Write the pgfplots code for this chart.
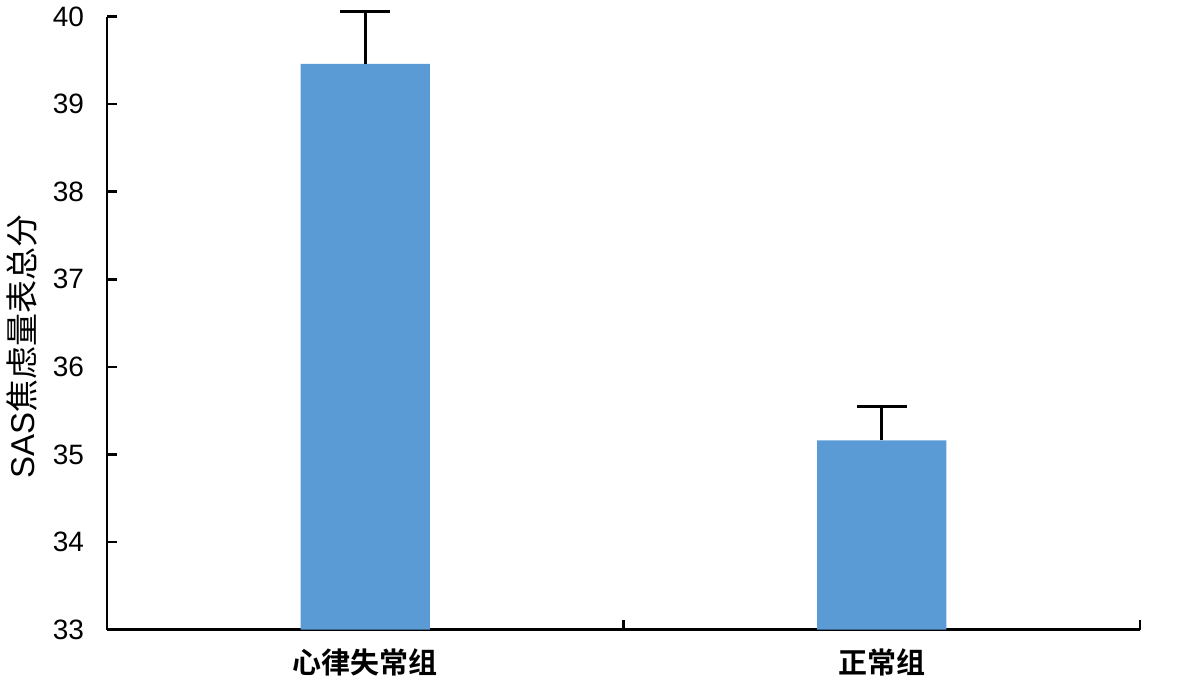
\documentclass[border=0pt]{standalone}
\usepackage{fontspec}
\setmainfont{Liberation Sans}
\newfontfamily\cjk{Noto Sans CJK SC}[BoldFont={Noto Sans CJK SC Bold}]
\usepackage{pgfplots}
\pgfplotsset{compat=1.18}
\definecolor{barblue}{HTML}{5B9BD5}

\begin{document}
\begin{tikzpicture}
\begin{axis}[
    scale only axis,
    width=516.5pt, height=306.5pt,
    xmin=-0.5, xmax=1.5,
    % shift y so that the bars start at the bottom of the axis (33)
    y coord trafo/.code={\pgfmathparse{#1-33}},
    y coord inv trafo/.code={\pgfmathparse{#1+33}},
    ymin=33, ymax=40,
    ytick={33,34,...,40},
    yticklabel={\pgfmathprintnumber[fixed,precision=0]{\tick}},
    xtick={-0.5,0.5,1.5},
    xticklabels={{\cjk\bfseries 心律失常组},{\cjk\bfseries 正常组}},
    x tick label as interval,
    axis x line*=bottom,
    axis y line*=left,
    axis line style={line width=1.3pt},
    tick align=inside,
    major tick length=5pt,
    tick style={line width=1.3pt, black},
    /pgf/number format/assume math mode=true,
    yticklabel style={font=\fontsize{14}{16}\selectfont, xshift=-8pt},
    xticklabel style={font=\fontsize{14.5}{16}\selectfont, yshift=-6pt},
    ylabel={SAS{\cjk 焦虑量表总分}},
    ylabel style={font=\fontsize{16.5}{18}\selectfont, at={(axis description cs:-0.082,0.462)}, anchor=center, rotate=0},
    clip=false,
]
\addplot[ybar, bar width=0.25, fill=barblue, draw=none,
    error bars/.cd, y dir=plus, y explicit,
    error bar style={line width=1.3pt, black},
    error mark options={rotate=90, mark size=12.5pt, line width=1.3pt, black}]
    coordinates {(0,39.46) +- (0,0.60) (1,35.16) +- (0,0.39)};
\end{axis}
\path (current axis.south west) ++(-53.5pt,-32.5pt);
\path (current axis.north east) ++(20.5pt,7.5pt);
\end{tikzpicture}
\end{document}
